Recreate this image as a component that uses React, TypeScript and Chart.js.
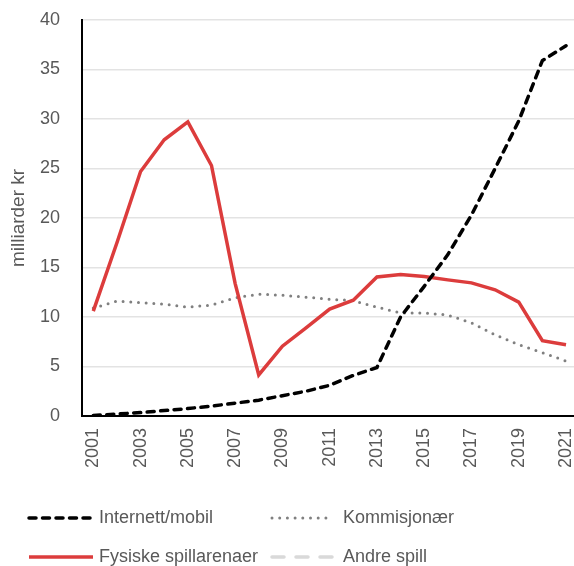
import React, { useEffect, useRef } from "react";
import { Chart, registerables } from "chart.js";

Chart.register(...registerables);

const years = [2001, 2002, 2003, 2004, 2005, 2006, 2007, 2008, 2009, 2010, 2011, 2012, 2013, 2014, 2015, 2016, 2017, 2018, 2019, 2020, 2021];
const tickYears = [2001, 2003, 2005, 2007, 2009, 2011, 2013, 2015, 2017, 2019, 2021];
const yTicks = [0, 5, 10, 15, 20, 25, 30, 35, 40];

const internett = [0.05, 0.2, 0.35, 0.55, 0.75, 1.0, 1.3, 1.6, 2.05, 2.5, 3.1, 4.1, 4.9, 10.0, 13.1, 16.3, 20.3, 25.0, 29.8, 35.9, 37.4];
const kommisjonaer = [10.9, 11.6, 11.45, 11.3, 11.0, 11.2, 11.95, 12.3, 12.2, 12.0, 11.8, 11.65, 11.0, 10.4, 10.4, 10.2, 9.4, 8.2, 7.2, 6.4, 5.55];
const fysiske = [10.6, 17.5, 24.7, 27.9, 29.7, 25.3, 13.4, 4.15, 7.05, 8.9, 10.8, 11.7, 14.05, 14.3, 14.1, 13.75, 13.45, 12.75, 11.5, 7.6, 7.2];
const andre: (number | null)[] = years.map(() => null);

const seriesNames = ["Internett/mobil", "Kommisjonær", "Fysiske spillarenaer", "Andre spill"];
const yTitle = "milliarder kr";

const FONT = "'Liberation Sans', Arial, sans-serif";
const TEXT = "#595959";

const styles = [
  { color: "#000000", width: 3.5, dash: [7, 6.5], cap: "round" as CanvasLineCap },
  { color: "#808080", width: 3, dash: [0, 7.7], cap: "round" as CanvasLineCap },
  { color: "#DC3C3C", width: 3.5, dash: [] as number[], cap: "butt" as CanvasLineCap },
  { color: "#D9D9D9", width: 3.5, dash: [12, 12], cap: "round" as CanvasLineCap },
];

const toPts = (vals: (number | null)[]) => years.map((x, i) => ({ x, y: vals[i] }));

const legendPlugin = {
  id: "customLegend",
  afterDraw(chart: any) {
    const ctx = chart.ctx as CanvasRenderingContext2D;
    const pos = [
      { x: 29, x2: 92, tx: 99, y: 518 },
      { x: 272, x2: 333, tx: 343, y: 518 },
      { x: 29, x2: 93, tx: 99, y: 557 },
      { x: 272, x2: 335, tx: 343, y: 557 },
    ];
    ctx.save();
    seriesNames.forEach((name, i) => {
      const s = styles[i];
      const p = pos[i];
      ctx.beginPath();
      ctx.strokeStyle = s.color;
      ctx.lineWidth = s.width;
      ctx.lineCap = s.cap;
      ctx.setLineDash(s.dash);
      ctx.moveTo(p.x, p.y);
      ctx.lineTo(p.x2, p.y);
      ctx.stroke();
      ctx.setLineDash([]);
      ctx.fillStyle = TEXT;
      ctx.font = `18px ${FONT}`;
      ctx.textBaseline = "middle";
      ctx.textAlign = "left";
      ctx.fillText(name, p.tx, p.y);
    });
    ctx.restore();
  },
};

export default function App() {
  const ref = useRef<HTMLCanvasElement>(null);
  useEffect(() => {
    if (!ref.current) return;
    const dataSeries = [internett, kommisjonaer, fysiske, andre];
    const orders = [0, 2, 1, 3];
    const chart = new Chart(ref.current, {
      type: "line",
      data: {
        datasets: dataSeries.map((vals, i) => ({
          label: seriesNames[i],
          data: toPts(vals) as any,
          borderColor: styles[i].color,
          backgroundColor: styles[i].color,
          borderWidth: styles[i].width,
          borderDash: styles[i].dash,
          borderCapStyle: styles[i].cap,
          borderJoinStyle: "miter" as CanvasLineJoin,
          pointRadius: 0,
          tension: 0,
          fill: false,
          order: orders[i],
          spanGaps: false,
        })),
      },
      options: {
        animation: false,
        responsive: true,
        maintainAspectRatio: false,
        layout: { padding: { left: 0, right: 0, top: 20, bottom: 90 } },
        plugins: { legend: { display: false }, tooltip: { enabled: false } },
        scales: {
          x: {
            type: "linear",
            min: 2000.522,
            max: 2021.338,
            afterBuildTicks: (s: any) => {
              s.ticks = tickYears.map((v) => ({ value: v }));
            },
            afterFit: (s: any) => {
              s.height = 60;
              s.paddingLeft = 0;
              s.paddingRight = 0;
            },
            grid: { display: false, drawTicks: false },
            border: { display: true, color: "#000000", width: 2 },
            ticks: {
              autoSkip: false,
              minRotation: 90,
              maxRotation: 90,
              padding: 12,
              color: TEXT,
              font: { family: FONT, size: 18 },
              callback: (v: any) => String(v),
            },
          },
          y: {
            min: 0,
            max: 40,
            afterBuildTicks: (s: any) => {
              s.ticks = yTicks.map((v) => ({ value: v }));
            },
            afterFit: (s: any) => {
              s.width = 82;
              s.paddingTop = 0;
              s.paddingBottom = 0;
            },
            grid: { color: "#E3E3E3", lineWidth: 1.5, drawTicks: false },
            border: { display: true, color: "#000000", width: 2 },
            ticks: {
              padding: 22,
              color: TEXT,
              font: { family: FONT, size: 18 },
              callback: (v: any) => String(v),
            },
            title: {
              display: true,
              text: yTitle,
              color: TEXT,
              font: { family: FONT, size: 19 },
              padding: { top: 7, bottom: 4 },
            },
          },
        },
      },
      plugins: [legendPlugin],
    });
    return () => chart.destroy();
  }, []);
  return (
    <div style={{ position: "fixed", left: 0, top: 0, width: 574, height: 566, background: "#fff" }}>
      <canvas ref={ref} />
    </div>
  );
}
